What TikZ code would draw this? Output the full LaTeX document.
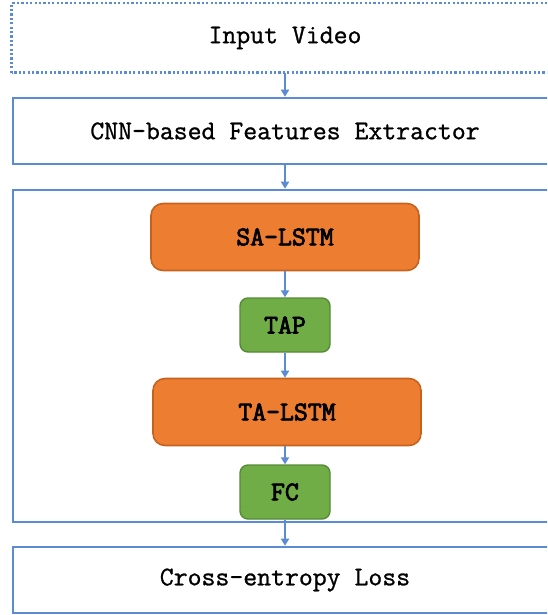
\documentclass[tikz,border=0pt]{standalone}
\usepackage{fontspec}
\newfontfamily\outerfont{Latin Modern Mono}[FakeBold=1]
\newfontfamily\innerfont{Latin Modern Mono}[FakeBold=3]
\usetikzlibrary{arrows.meta}
\definecolor{lineblue}{HTML}{5B8BD0}
\definecolor{orfill}{HTML}{ED7D31}
\definecolor{ordraw}{HTML}{C7621E}
\definecolor{grfill}{HTML}{70AD47}
\definecolor{grdraw}{HTML}{568A36}
\tikzset{
  outerbox/.style={draw=lineblue, line width=2.6pt, minimum width=544pt, inner sep=0pt, font=\fontsize{27}{31}\selectfont\outerfont},
  lstmbox/.style={draw=ordraw, fill=orfill, line width=1.6pt, rounded corners=12pt, minimum width=268pt, minimum height=67pt, font=\fontsize{27}{31}\selectfont\innerfont},
  smallbox/.style={draw=grdraw, fill=grfill, line width=1.4pt, rounded corners=8pt, minimum width=90pt, minimum height=54pt, font=\fontsize{27}{31}\selectfont\innerfont},
  flow/.style={draw=lineblue, line width=2pt, -{Triangle[length=7pt,width=8pt]}}
}
\begin{document}
\begin{tikzpicture}[x=1pt,y=1pt]
\useasboundingbox (0,0) rectangle (547,-615);
\clip (0,0) rectangle (547,-615);
\node[outerbox, draw=none, minimum height=67pt] (input) at (285,-38) {Input Video};
\draw[lineblue, line width=2.6pt, dash pattern=on 2.2pt off 2.2pt] (input.south west) rectangle (input.north east);
\node[outerbox, minimum height=66pt] (cnn) at (285,-131) {CNN-based Features Extractor};
\node[outerbox, minimum height=332pt] (cont) at (285,-356) {};
\node[outerbox, minimum height=66pt] (loss) at (285,-580) {Cross-entropy Loss};
\node[lstmbox] (sa) at (285,-237) {SA-LSTM};
\node[smallbox] (tap) at (285,-325) {TAP};
\node[lstmbox] (ta) at (287,-412) {TA-LSTM};
\node[smallbox] (fc) at (285,-492) {FC};
\draw[flow] (input.south) -- (cnn.north);
\draw[flow] (cnn.south) -- (cont.north);
\draw[flow] (sa.south) -- (tap.north);
\draw[flow] (tap.north |- tap.south) -- (tap.south |- ta.north);
\draw[flow] (fc.north |- ta.south) -- (fc.north);
\draw[flow] (fc.south) -- (loss.north);
\end{tikzpicture}
\end{document}
